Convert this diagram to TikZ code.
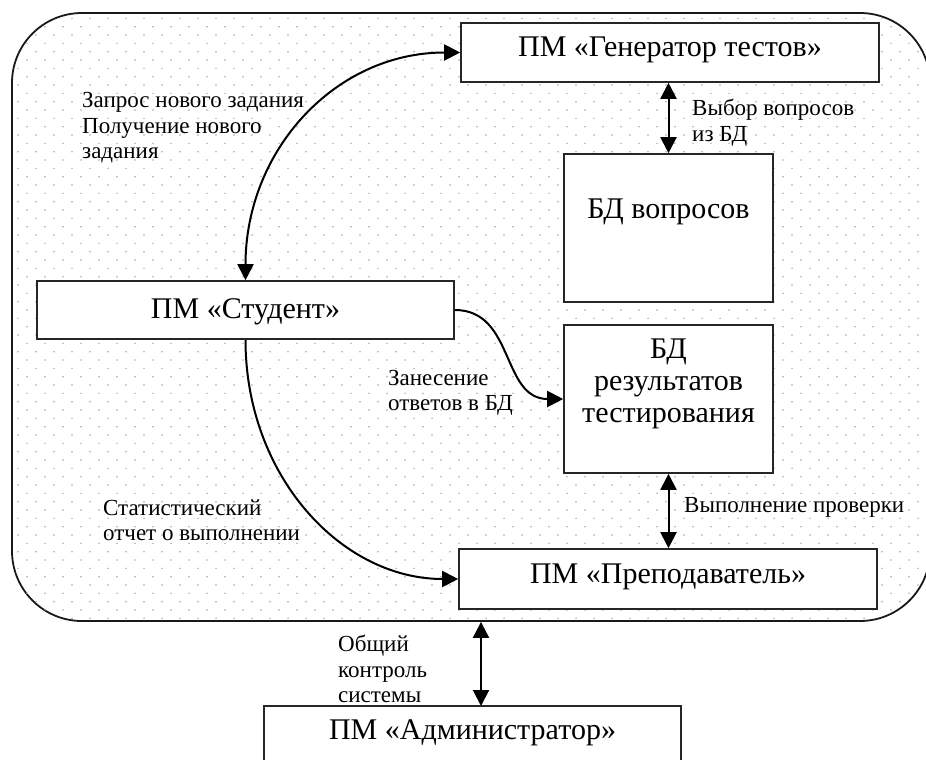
\documentclass[tikz,border=0pt]{standalone}
\usepackage{fontspec}
\setmainfont{Liberation Serif}
\usetikzlibrary{arrows.meta}
\tikzset{
  box/.style={draw=black!85, line width=1.6pt, fill=white, inner sep=0pt},
  boxtext/.style={inner sep=0pt, align=center, font=\fontsize{30}{32}\selectfont},
  lbl/.style={inner sep=0pt, align=left, anchor=west, font=\fontsize{23}{25.5}\selectfont},
  tip/.tip={Triangle[length=16pt,width=16pt]},
  arr/.style={line width=2pt, -tip},
  dbl/.style={line width=2pt, tip-tip},
}
\begin{document}
\begin{tikzpicture}[x=1pt,y=-1pt]
\useasboundingbox (0,0) rectangle (926,760);
\clip (0,0) rectangle (926,760);
% outer region
\node[draw=black!90, line width=1.8pt, rounded corners=70pt, minimum width=918pt, minimum height=608pt, inner sep=0pt] (outer) at (471,317) {};
\begin{scope}
  \clip[rounded corners=70pt] (12,13) rectangle (930,621);
  \foreach \j in {0,...,74} {
    \foreach \i in {0,...,52} {
      \fill[black!35] ({9*(2*\i+mod(\j,2))},{1.7+8.333*\j}) circle (0.85);
    }
  }
\end{scope}
% boxes
\node[box, minimum width=418pt, minimum height=59pt] (gen) at (670,52.5) {};
\node[boxtext] (gent) at (670,50) {ПМ «Генератор тестов»};
\node[box, minimum width=209pt, minimum height=148pt] (bdq) at (668.5,228) {};
\node[boxtext] (bdqt) at (668.5,212) {БД вопросов};
\node[box, minimum width=417pt, minimum height=58pt] (stud) at (245.5,310) {};
\node[boxtext] (studt) at (245.5,312) {ПМ «Студент»};
\node[box, minimum width=209pt, minimum height=148pt] (bdr) at (668.5,399) {};
\node[boxtext] (bdrt) at (668.5,384) {БД\\результатов\\тестирования};
\node[box, minimum width=418pt, minimum height=60pt] (prep) at (668,579) {};
\node[boxtext] (prept) at (668,577) {ПМ «Преподаватель»};
\node[box, minimum width=417pt, minimum height=80pt] (adm) at (472.5,746) {};
\node[boxtext] (admt) at (472.5,733) {ПМ «Администратор»};
\coordinate (admtop) at (481,706);
% connectors
\draw[dbl] (bdq.north |- gen.south) -- (bdq.north);
\draw[dbl] (bdr.south) -- (bdr.south |- prep.north);
\draw[dbl] (admtop |- outer.south) -- (admtop);
\draw[dbl] (stud.north) .. controls +(0,-130) and +(-125,0) .. (gen.west);
\draw[arr] (stud.south) .. controls +(0,136) and +(-117,0) .. (prep.west);
\draw[arr] (stud.east) .. controls +(60,0) and +(-62,0) .. (bdr.west);
% labels
\node[lbl] (lq) at (82,128) {Запрос нового задания\\Получение нового\\задания};
\node[lbl] (lv) at (692,122.5) {Выбор вопросов\\из БД};
\node[lbl] (lz) at (388,393) {Занесение\\ответов в БД};
\node[lbl] (ls) at (103,520) {Статистический\\отчет о выполнении};
\node[lbl] (lp) at (684,507) {Выполнение проверки};
\node[lbl] (lo) at (338,669) {Общий\\контроль\\системы};
\end{tikzpicture}
\end{document}
